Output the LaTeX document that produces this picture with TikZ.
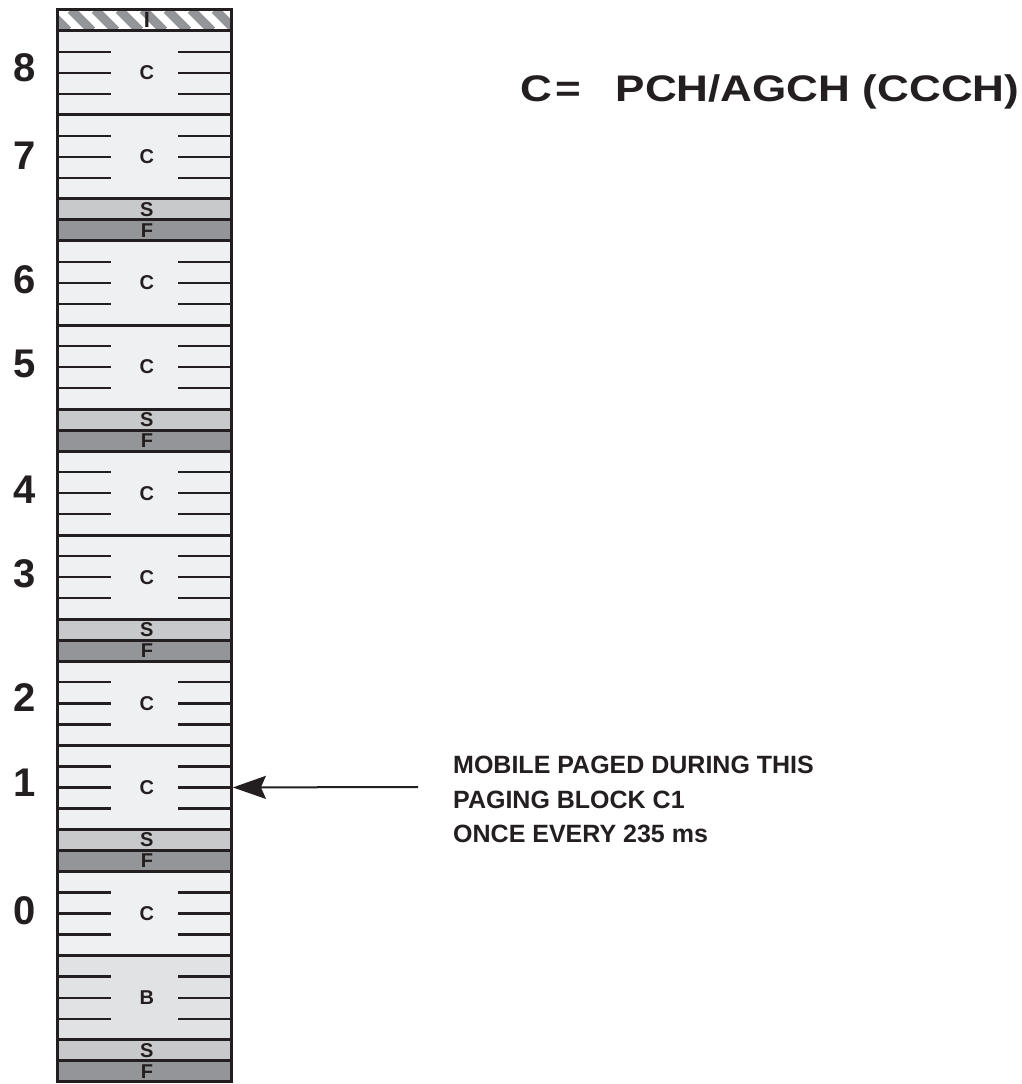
\documentclass[tikz,border=0pt]{standalone}
\usepackage{fontspec}
\setmainfont{Liberation Sans}
\usetikzlibrary{calc,arrows.meta}
\definecolor{cfill}{HTML}{EFF0F2}
\definecolor{bfill}{HTML}{E1E2E4}
\definecolor{sfill}{HTML}{C8C9CB}
\definecolor{ffill}{HTML}{939598}
\definecolor{ink}{HTML}{231F20}
\begin{document}
\begin{tikzpicture}[x=1pt,y=-1pt,
  slot/.style={draw=ink,line width=3pt,minimum width=174pt,inner sep=0pt,outer sep=0pt,
    anchor=north west,text=ink,font=\fontsize{20}{20}\selectfont\bfseries,
    execute at begin node=\hspace*{5pt}},
  bigslot/.style={slot,minimum height=84.08pt},
  thinslot/.style={slot,minimum height=21.02pt},
  cblk/.style={bigslot,fill=cfill},
  bblk/.style={bigslot,fill=bfill},
  sblk/.style={thinslot,fill=sfill},
  fblk/.style={thinslot,fill=ffill},
  part/.style={draw=ink,line width=2.3pt},
  digit/.style={inner sep=0pt,text=ink,font=\fontsize{40}{40}\selectfont\bfseries},
  note/.style={inner sep=0pt,anchor=base west,text=ink,font=\fontsize{25}{25}\selectfont\bfseries},
  arr/.style={draw=ink,line width=2pt,-{Stealth[length=33pt,width=23pt,inset=5pt]}}
]
\useasboundingbox (0,0) rectangle (1021,1084);
\fill[white] (0,0) rectangle (1021,1084);

% idle frame hatch
\begin{scope}
  \clip (57.4,9.7) rectangle (231.4,30.72);
  \fill[white] (57.4,9.7) rectangle (231.4,30.72);
  \foreach \x in {20,44,...,260}
    \draw[ffill,line width=9pt] (\x-21.02,9.7) -- ++(21.02,21.02);
\end{scope}
\node[thinslot,font=\fontsize{22}{22}\selectfont\bfseries] (idle) at (57.4,9.7) {I};

\node[cblk] (c8) at (57.4,30.72) {C};
\node[cblk] (c7) at (57.4,114.8) {C};
\node[sblk] (s4) at (57.4,198.88) {S};
\node[fblk] (f4) at (57.4,219.9) {F};
\node[cblk] (c6) at (57.4,240.92) {C};
\node[cblk] (c5) at (57.4,325.0) {C};
\node[sblk] (s3) at (57.4,409.08) {S};
\node[fblk] (f3) at (57.4,430.1) {F};
\node[cblk] (c4) at (57.4,451.12) {C};
\node[cblk] (c3) at (57.4,535.2) {C};
\node[sblk] (s2) at (57.4,619.28) {S};
\node[fblk] (f2) at (57.4,640.3) {F};
\node[cblk] (c2) at (57.4,661.32) {C};
\node[cblk] (c1) at (57.4,745.4) {C};
\node[sblk] (s1) at (57.4,829.48) {S};
\node[fblk] (f1) at (57.4,850.5) {F};
\node[cblk] (c0) at (57.4,871.52) {C};
\node[bblk] (b) at (57.4,955.6) {B};
\node[sblk] (s0) at (57.4,1039.68) {S};
\node[fblk] (f0) at (57.4,1060.7) {F};

% timeslot ticks inside the 4-frame blocks
\foreach \n in {c8,c7,c6,c5,c4,c3,c2,c1,c0,b}
  \foreach \f in {0.25,0.5,0.75} {
    \draw[part] ($(\n.north west)!\f!(\n.south west)$) -- ++(53.1,0);
    \draw[part] ($(\n.north east)!\f!(\n.south east)$) -- ++(-53.1,0);
  }

% block numbers
\node[digit] (n8) at (24.5,67.5) {8};
\node[digit] (n7) at (24.5,155.5) {7};
\node[digit] (n6) at (24.5,280.0) {6};
\node[digit] (n5) at (24.5,364.0) {5};
\node[digit] (n4) at (24.5,490.2) {4};
\node[digit] (n3) at (24.5,574.2) {3};
\node[digit] (n2) at (24.5,698.0) {2};
\node[digit] (n1) at (24.5,782.5) {1};
\node[digit] (n0) at (24.5,910.6) {0};

% legend
\node[inner sep=0pt,anchor=base west,text=ink,font=\fontsize{37}{37}\selectfont\bfseries]
  (title) at (520,101.5) {\scalebox{1.19}[1]{C\hspace{3pt}=\hspace{29pt}PCH/AGCH (CCCH)}};

% note and arrow
\node[note] (t1) at (453,773) {MOBILE PAGED DURING THIS};
\node[note] (t2) at (453,808) {PAGING BLOCK C1};
\node[note] (t3) at (453,842.5) {ONCE EVERY 235 ms};
\coordinate (pstart) at (418,787);
\draw[arr] (pstart) -- ([xshift=1.5pt]c1.east);
\end{tikzpicture}
\end{document}
